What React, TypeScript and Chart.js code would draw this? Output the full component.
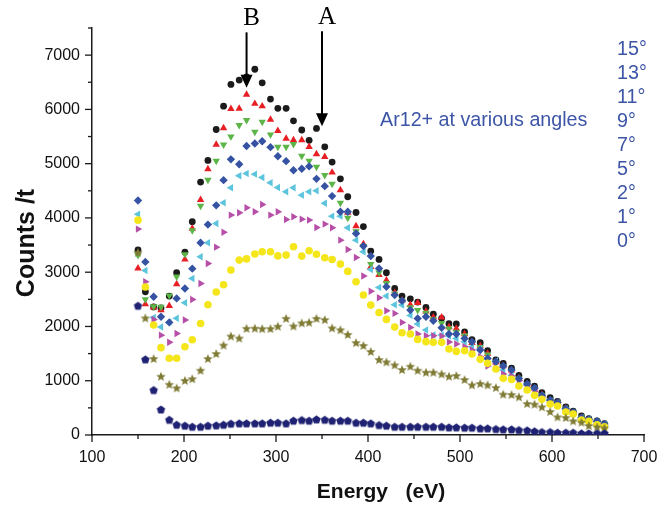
import React, { useEffect, useRef } from 'react';
import { Chart, registerables } from 'chart.js';

Chart.register(...registerables);

// ---------- data ----------
const ENERGY = [150,158,167,175,184,192,201,209,218,226,235,243,251,260,268,277,285,294,302,311,319,328,336,344,353,361,370,378,387,395,403,412,420,429,437,446,454,463,471,480,488,496,505,513,522,530,539,547,556,564,573,581,589,598,606,615,623,632,640,649,657];

const DEG15 = [3410,2640,2360,2340,2560,2990,3370,3930,4660,5060,5630,6060,6460,6540,6600,6740,6490,6190,6020,6020,5790,5620,5430,5650,5310,5030,4720,4390,4100,3840,3390,3235,2990,2700,2560,2510,2450,2350,2225,2150,2050,2045,1900,1755,1700,1555,1385,1320,1230,1100,990,900,780,690,620,520,440,350,300,260,210];
const DEG13 = [3070,2410,2350,2300,2380,2780,3235,3805,4335,4900,5350,5655,6010,6016,6274,6105,6059,5813,5604,5464,5433,5433,5310,5175,5126,4838,4512,4100,3850,3520,3100,2950,2850,2620,2480,2400,2437,2280,2170,2167,1990,1960,1860,1700,1640,1500,1340,1270,1190,1050,940,860,740,640,600,490,410,320,280,240,200];
const DEG11 = [3315,2500,2370,2360,2570,2916,3330,3770,4220,4700,5050,5350,5500,5709,5801,5586,5770,5537,5310,5310,5359,5144,5050,4941,4788,4628,4278,4000,3750,3480,3150,2990,2800,2600,2470,2350,2300,2250,2130,2060,1960,1900,1830,1700,1620,1480,1340,1260,1180,1040,930,850,730,640,590,480,410,320,280,245,200];
const DEG9 = [4322,3190,2547,2179,2075,2517,2700,3065,3542,3877,4232,4696,5080,4988,5325,5372,5414,5304,5138,5046,4880,4905,4950,4720,4586,4402,4115,4115,3714,3481,3297,3069,2732,2578,2474,2302,2149,2179,2105,1976,1860,1860,1780,1719,1565,1412,1350,1271,1200,1040,940,866,731,645,597,486,418,319,289,252,203];
const DEG7 = [4070,3033,2167,1990,2080,2150,2437,2885,3284,3542,3898,4279,4555,4776,4819,4807,4745,4647,4561,4481,4555,4420,4481,4500,4270,4033,4033,3818,3591,3376,3050,2720,2560,2400,2394,2204,2044,1934,1842,1842,1823,1780,1719,1627,1590,1394,1363,1197,1099,1026,920,850,720,630,590,480,410,320,280,240,200];
const DEG5 = [3794,2824,2130,1840,1710,1870,2118,2498,2793,3161,3462,3738,4052,4094,4187,4113,4248,4052,4113,3972,4021,3978,3960,3824,3886,3818,3591,3419,3272,2930,2650,2529,2290,2241,2075,1983,1860,1829,1829,1823,1713,1676,1627,1565,1443,1271,1246,1123,1087,1000,880,800,700,610,560,460,400,300,270,225,180];
const DEG2 = [3959,2726,2026,1610,1415,1415,1627,1755,2056,2400,2635,2770,3039,3223,3245,3335,3376,3376,3300,3315,3468,3297,3395,3330,3266,3235,3149,3015,2824,2580,2394,2256,2130,1990,1885,1860,1762,1720,1707,1707,1584,1541,1553,1492,1394,1320,1215,1044,1025,902,829,731,657,571,534,424,387,276,252,190,153];
const DEG1 = [3357,2149,1400,1074,925,860,997,1028,1185,1400,1492,1648,1815,1778,1956,1960,1950,1952,1995,2140,2000,2056,2068,2140,2118,1964,1930,1845,1694,1642,1530,1381,1338,1283,1197,1258,1185,1148,1148,1117,1074,1087,1013,915,939,915,866,743,737,694,571,559,510,424,325,313,252,227,166,141,123];
const DEG0 = [2382,1394,829,470,280,190,172,153,153,172,178,190,209,215,215,215,215,227,227,215,264,276,264,289,282,264,264,264,227,227,215,184,172,153,153,153,153,153,153,153,141,141,135,135,123,123,110,104,104,92,86,68,55,55,43,43,43,31,31,31,31];

const ANGLE_LABELS = ['15°', '13°', '11°', '9°', '7°', '5°', '2°', '1°', '0°'];
const ANNOTATION_TEXT = 'Ar12+ at various angles';
const X_TITLE = 'Energy   (eV)';
const Y_TITLE = 'Counts /t';
// arrows: label, energy (eV), top count, tip count
const ARROW_LABELS = ['B', 'A'];
const ARROW_ENERGY = [268, 350];
const ARROW_TOP = [7420, 7440];
const ARROW_TIP = [6400, 5690];

// ---------- styles ----------
const FONT = "'Liberation Sans', Arial, Helvetica, sans-serif";
const TEXT_BLUE = '#3d55a6';
const AXIS_COLOR = '#1a1a1a';

function makeStar(color: string, outer: number, inner: number) {
  const size = Math.ceil(outer * 2) + 2;
  const c = document.createElement('canvas');
  c.width = size; c.height = size;
  const g = c.getContext('2d')!;
  g.fillStyle = color;
  g.beginPath();
  for (let i = 0; i < 10; i++) {
    const r = i % 2 === 0 ? outer : inner;
    const a = -Math.PI / 2 + (i * Math.PI) / 5;
    const px = size / 2 + r * Math.cos(a);
    const py = size / 2 + r * Math.sin(a);
    if (i === 0) g.moveTo(px, py); else g.lineTo(px, py);
  }
  g.closePath();
  g.fill();
  return c;
}

function makePentagon(color: string, r: number) {
  const size = Math.ceil(r * 2) + 2;
  const c = document.createElement('canvas');
  c.width = size; c.height = size;
  const g = c.getContext('2d')!;
  g.fillStyle = color;
  g.beginPath();
  for (let i = 0; i < 5; i++) {
    const a = -Math.PI / 2 + (i * 2 * Math.PI) / 5;
    const px = size / 2 + r * Math.cos(a);
    const py = size / 2 + r * Math.sin(a) + 0.4;
    if (i === 0) g.moveTo(px, py); else g.lineTo(px, py);
  }
  g.closePath();
  g.fill();
  return c;
}

const decorPlugin = {
  id: 'decor',
  afterDraw(chart: any) {
    const { ctx, chartArea } = chart;
    const xs = chart.scales.x;
    const ys = chart.scales.y;
    ctx.save();
    // tick marks (outward)
    ctx.strokeStyle = AXIS_COLOR;
    ctx.lineWidth = 1.3;
    xs.ticks.forEach((t: any) => {
      const px = xs.getPixelForValue(t.value);
      const len = t.value % 100 === 0 ? 7 : 4;
      ctx.beginPath();
      ctx.moveTo(px, chartArea.bottom);
      ctx.lineTo(px, chartArea.bottom + len);
      ctx.stroke();
    });
    ys.ticks.forEach((t: any) => {
      const py = ys.getPixelForValue(t.value);
      const len = t.value % 1000 === 0 ? 7 : 4;
      ctx.beginPath();
      ctx.moveTo(chartArea.left, py);
      ctx.lineTo(chartArea.left - len, py);
      ctx.stroke();
    });

    // axis titles
    ctx.fillStyle = '#111';
    ctx.textAlign = 'center';
    ctx.textBaseline = 'middle';
    ctx.font = `bold 21px ${FONT}`;
    ctx.fillText(X_TITLE, 381, 492);
    ctx.save();
    ctx.translate(27, 243);
    ctx.rotate(-Math.PI / 2);
    ctx.font = `bold 25px ${FONT}`;
    ctx.fillText(Y_TITLE, 0, 0);
    ctx.restore();

    // arrows
    ARROW_LABELS.forEach((lab, i) => {
      const ax = xs.getPixelForValue(ARROW_ENERGY[i]);
      const top = ys.getPixelForValue(ARROW_TOP[i]);
      const tip = ys.getPixelForValue(ARROW_TIP[i]);
      ctx.strokeStyle = '#000';
      ctx.fillStyle = '#000';
      ctx.lineWidth = 2;
      ctx.beginPath();
      ctx.moveTo(ax, top);
      ctx.lineTo(ax, tip - 10);
      ctx.stroke();
      ctx.beginPath();
      ctx.moveTo(ax - 6, tip - 13);
      ctx.lineTo(ax + 6, tip - 13);
      ctx.lineTo(ax, tip);
      ctx.closePath();
      ctx.fill();
      ctx.font = `25px 'Liberation Serif', 'Times New Roman', serif`;
      ctx.textAlign = 'center';
      ctx.textBaseline = 'middle';
      ctx.fillText(lab, ax + 5, top - 14);
    });

    // annotation + angle list
    ctx.fillStyle = TEXT_BLUE;
    ctx.font = `19.7px ${FONT}`;
    ctx.textAlign = 'left';
    ctx.textBaseline = 'middle';
    ctx.fillText(ANNOTATION_TEXT, 380, 121);
    ANGLE_LABELS.forEach((lab, i) => {
      ctx.fillText(lab, 617, 50 + i * 24);
    });
    ctx.restore();
  },
};

export default function App() {
  const ref = useRef<HTMLCanvasElement>(null);
  useEffect(() => {
    document.body.style.margin = '0';
    const star = makeStar('#7f7b35', 5, 2.2);
    const pent = makePentagon('#1f2272', 4.4);
    const mk = (vals: number[]) => vals.map((v, i) => ({ x: ENERGY[i], y: v }));
    const base = { showLine: false, pointBorderWidth: 0, pointHoverRadius: 4 };
    const chart = new Chart(ref.current!, {
      type: 'scatter',
      data: {
        datasets: [
          { ...base, label: ANGLE_LABELS[8], data: mk(DEG0), pointStyle: pent as any, pointRadius: 4, order: 1 },
          { ...base, label: ANGLE_LABELS[7], data: mk(DEG1), pointStyle: star as any, pointRadius: 5, order: 2 },
          { ...base, label: ANGLE_LABELS[6], data: mk(DEG2), pointStyle: 'circle', pointRadius: 3.8, backgroundColor: '#f4e61b', borderColor: '#f4e61b', order: 3 },
          { ...base, label: ANGLE_LABELS[5], data: mk(DEG5), pointStyle: 'triangle', pointRotation: 90, pointRadius: 4.3, backgroundColor: '#b54fa7', borderColor: '#b54fa7', order: 5 },
          { ...base, label: ANGLE_LABELS[4], data: mk(DEG7), pointStyle: 'triangle', pointRotation: 270, pointRadius: 4.3, backgroundColor: '#5cc4dc', borderColor: '#5cc4dc', order: 6 },
          { ...base, label: ANGLE_LABELS[3], data: mk(DEG9), pointStyle: 'rectRot', pointRadius: 4.2, backgroundColor: '#3552a3', borderColor: '#3552a3', order: 4 },
          { ...base, label: ANGLE_LABELS[2], data: mk(DEG11), pointStyle: 'triangle', pointRotation: 180, pointRadius: 4.3, backgroundColor: '#5db548', borderColor: '#5db548', order: 7 },
          { ...base, label: ANGLE_LABELS[1], data: mk(DEG13), pointStyle: 'triangle', pointRadius: 4.3, backgroundColor: '#e81e25', borderColor: '#e81e25', order: 8 },
          { ...base, label: ANGLE_LABELS[0], data: mk(DEG15), pointStyle: 'circle', pointRadius: 3.4, backgroundColor: '#1b1b1b', borderColor: '#1b1b1b', order: 9 },
        ],
      },
      options: {
        animation: false,
        responsive: false,
        devicePixelRatio: 1,
        layout: { padding: { top: 28, right: 15, left: 0, bottom: 0 } },
        plugins: { legend: { display: false }, tooltip: { enabled: false } },
        scales: {
          x: {
            type: 'linear',
            min: 100,
            max: 700,
            grid: { display: false, drawTicks: false },
            border: { display: true, color: AXIS_COLOR, width: 1.5 },
            ticks: {
              stepSize: 50,
              autoSkip: false,
              maxRotation: 0,
              padding: 13,
              color: '#111',
              font: { family: FONT, size: 16 },
              callback: (v: any) => (Number(v) % 100 === 0 ? String(v) : ''),
            },
            afterFit: (s: any) => { s.height = 72; s.paddingLeft = 0; s.paddingRight = 0; },
          },
          y: {
            type: 'linear',
            min: 0,
            max: 7500,
            grid: { display: false, drawTicks: false },
            border: { display: true, color: AXIS_COLOR, width: 1.5 },
            ticks: {
              stepSize: 500,
              autoSkip: false,
              padding: 12,
              color: '#111',
              font: { family: FONT, size: 16 },
              callback: (v: any) => (Number(v) % 1000 === 0 ? String(v) : ''),
            },
            afterFit: (s: any) => { s.width = 92; s.paddingTop = 0; s.paddingBottom = 0; },
          },
        },
      },
      plugins: [decorPlugin],
    });
    return () => chart.destroy();
  }, []);
  return (
    <div style={{ width: 659, height: 507, background: '#fff' }}>
      <canvas ref={ref} width={659} height={507} style={{ display: 'block' }} />
    </div>
  );
}
